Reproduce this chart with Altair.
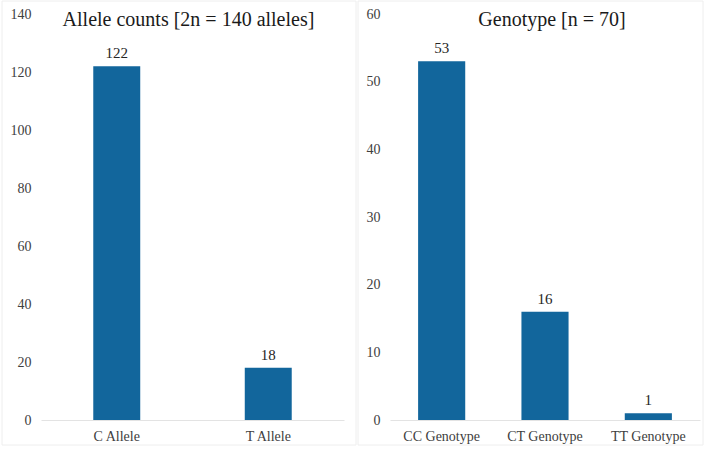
import altair as alt
import pandas as pd

# Allele counts
allele_labels = ["C Allele", "T Allele"]
allele_counts = [122, 18]

# Genotype counts
genotype_labels = ["CC Genotype", "CT Genotype", "TT Genotype"]
genotype_counts = [53, 16, 1]

BAR = "#12669c"
FONT = "Liberation Serif, Times New Roman, serif"
H = 406


def panel(labels, counts, title, ymax, ystep, width, pad_inner, frame, title_dx):
    df = pd.DataFrame({"cat": labels, "n": counts})
    base = alt.Chart(df)
    x = alt.X(
        "cat:N",
        sort=labels,
        title=None,
        scale=alt.Scale(paddingInner=pad_inner, paddingOuter=pad_inner / 2),
        axis=alt.Axis(
            labelAngle=0, labelFont=FONT, labelFontSize=14, labelColor="#404040",
            labelPadding=9, ticks=False, domainColor="#e3e3e3", domainWidth=1,
        ),
    )
    y = alt.Y(
        "n:Q",
        title=None,
        scale=alt.Scale(domain=[0, ymax], nice=False),
        axis=alt.Axis(
            values=list(range(0, ymax + 1, ystep)), grid=False, domain=False,
            ticks=False, labelFont=FONT, labelFontSize=14, labelColor="#404040",
            labelPadding=10,
        ),
    )
    bars = base.mark_bar(color=BAR).encode(x=x, y=y)
    values = base.mark_text(
        dy=-5, baseline="bottom", font=FONT, fontSize=15, color="#262626"
    ).encode(x=x, y=y, text="n:Q")
    heading = alt.Chart(pd.DataFrame({"t": [title]})).mark_text(
        font=FONT, fontSize=20, color="#1a1a1a", baseline="middle"
    ).encode(x=alt.value(width / 2 + title_dx), y=alt.value(6), text="t:N")
    border = alt.Chart(pd.DataFrame({"k": [0]})).mark_rect(
        fill=None, stroke="#eeeeee", strokeWidth=1, clip=False
    ).encode(
        x=alt.value(frame[0]), x2=alt.value(frame[1]),
        y=alt.value(-13), y2=alt.value(H + 25),
    )
    return alt.layer(border, bars, values, heading).properties(width=width, height=H)


left = panel(allele_labels, allele_counts, "Allele counts [2n = 140 alleles]",
             140, 20, 303, 0.69, (-39, 315), -4)
right = panel(genotype_labels, genotype_counts, "Genotype [n = 70]",
              60, 10, 310, 0.544, (-32, 313), 7)

chart = alt.hconcat(left, right, spacing=0).properties(
    padding={"left": 1, "top": 0, "right": 0, "bottom": 0}
).configure_view(stroke=None).configure_concat(spacing=0)

chart.save("out.html", embed_options={"renderer": "svg", "actions": False})
